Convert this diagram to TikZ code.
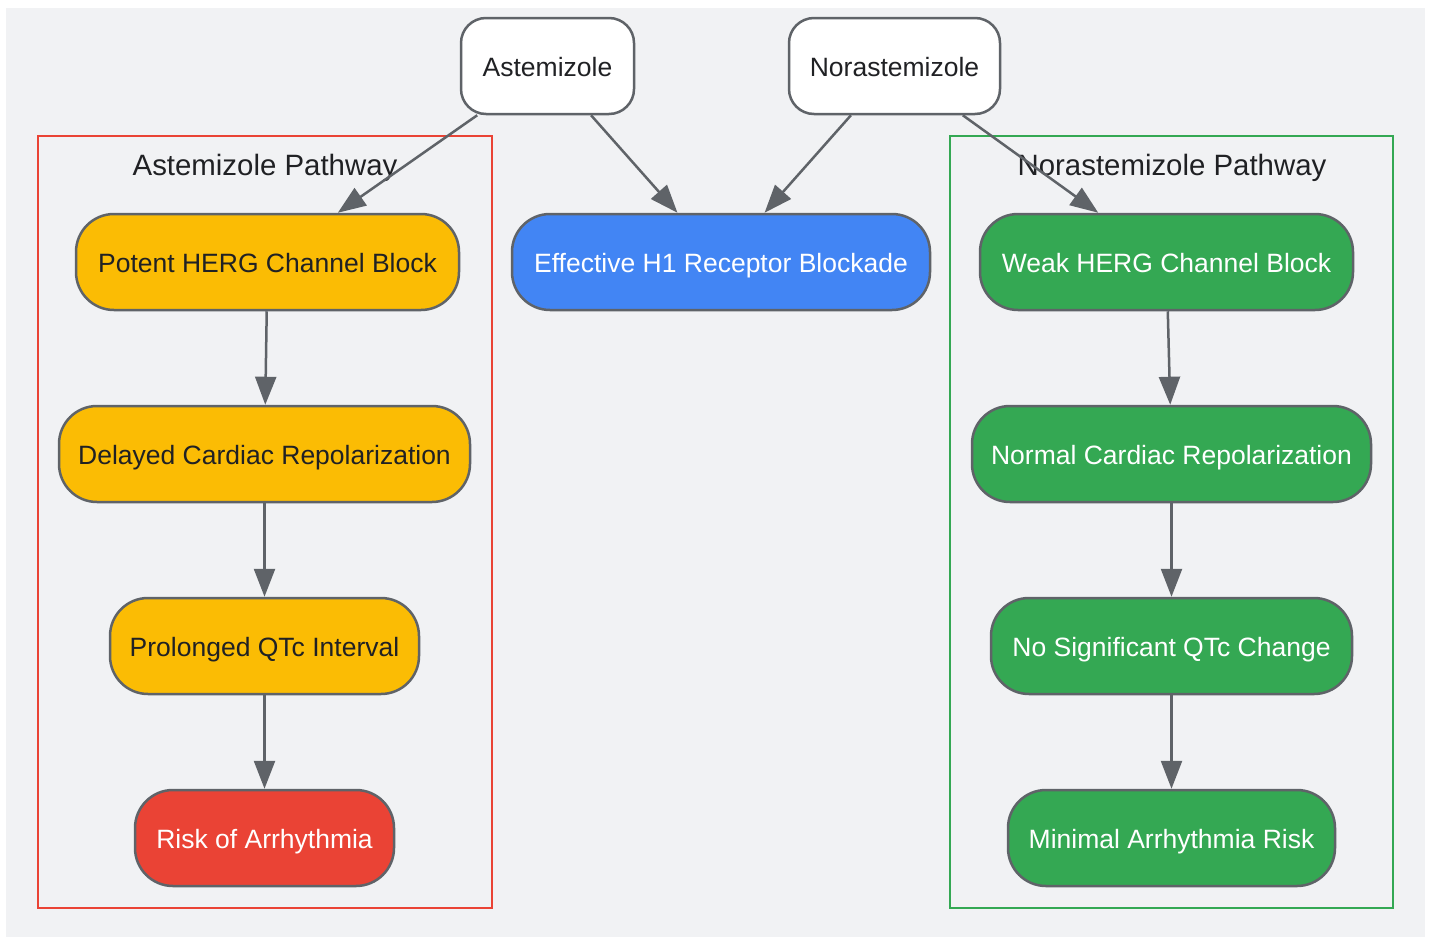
\documentclass[tikz,border=0pt]{standalone}
\usepackage{fontspec}
\setmainfont{Liberation Sans}
\usetikzlibrary{arrows.meta}
\definecolor{bggray}{HTML}{F1F2F4}
\definecolor{edgegray}{HTML}{5F6368}
\definecolor{txtdark}{HTML}{202124}
\definecolor{gyellow}{HTML}{FBBC04}
\definecolor{gblue}{HTML}{4285F4}
\definecolor{ggreen}{HTML}{34A853}
\definecolor{gred}{HTML}{EA4335}
\tikzset{
  base/.style={draw=edgegray, line width=2.5pt, minimum height=96pt, inner sep=0pt,
    font=\fontsize{26.5}{30}\selectfont, text=txtdark, text height=25pt, text depth=5pt},
  drug/.style={base, fill=white, rounded corners=25pt},
  stepbox/.style={base, rounded corners=38pt},
  conn/.style={draw=edgegray, line width=2.5pt, -{Triangle[length=28pt,width=21pt]}},
  cluster/.style={line width=2.5pt},
  clabel/.style={font=\fontsize{29.4}{33}\selectfont, text=txtdark, text height=26pt, text depth=6pt, inner sep=0pt}
}
\begin{document}
\begin{tikzpicture}[x=1pt,y=-1pt]
\useasboundingbox (0,0) rectangle (1429,937);
\fill[bggray] (6,8) rectangle (1425,937);
% clusters
\draw[cluster, draw=gred] (38,136) rectangle (492,908);
\draw[cluster, draw=ggreen] (950,136) rectangle (1393,908);
\node[clabel] (lblA) at (265,165) {Astemizole Pathway};
\node[clabel] (lblN) at (1172,165) {Norastemizole Pathway};
% nodes
\node[drug, minimum width=173pt] (ast) at (547.5,66) {Astemizole};
\node[drug, minimum width=211pt] (nor) at (894.5,66) {Norastemizole};
\node[stepbox, fill=gyellow, minimum width=383pt] (potent) at (267.5,262) {Potent HERG Channel Block};
\node[stepbox, fill=gblue, text=white, minimum width=418pt] (h1) at (721,262) {Effective H1 Receptor Blockade};
\node[stepbox, fill=ggreen, text=white, minimum width=373pt] (weak) at (1166.5,262) {Weak HERG Channel Block};
\node[stepbox, fill=gyellow, minimum width=411pt] (delayed) at (264.5,454) {Delayed Cardiac Repolarization};
\node[stepbox, fill=ggreen, text=white, minimum width=399pt] (normal) at (1171.5,454) {Normal Cardiac Repolarization};
\node[stepbox, fill=gyellow, minimum width=309pt] (prolonged) at (264.5,646) {Prolonged QTc Interval};
\node[stepbox, fill=ggreen, text=white, minimum width=361pt] (nosig) at (1171.5,646) {No Significant QTc Change};
\node[stepbox, fill=gred, text=white, minimum width=259pt] (risk) at (264.5,838) {Risk of Arrhythmia};
\node[stepbox, fill=ggreen, text=white, minimum width=327pt] (minimal) at (1171.5,838) {Minimal Arrhythmia Risk};
% connectors
\draw[conn] (ast) -- (potent);
\draw[conn] (ast) -- (h1);
\draw[conn] (nor) -- (h1);
\draw[conn] (nor) -- (weak);
\draw[conn] (potent) -- (delayed);
\draw[conn] (delayed) -- (prolonged);
\draw[conn] (prolonged) -- (risk);
\draw[conn] (weak) -- (normal);
\draw[conn] (normal) -- (nosig);
\draw[conn] (nosig) -- (minimal);
\end{tikzpicture}
\end{document}
